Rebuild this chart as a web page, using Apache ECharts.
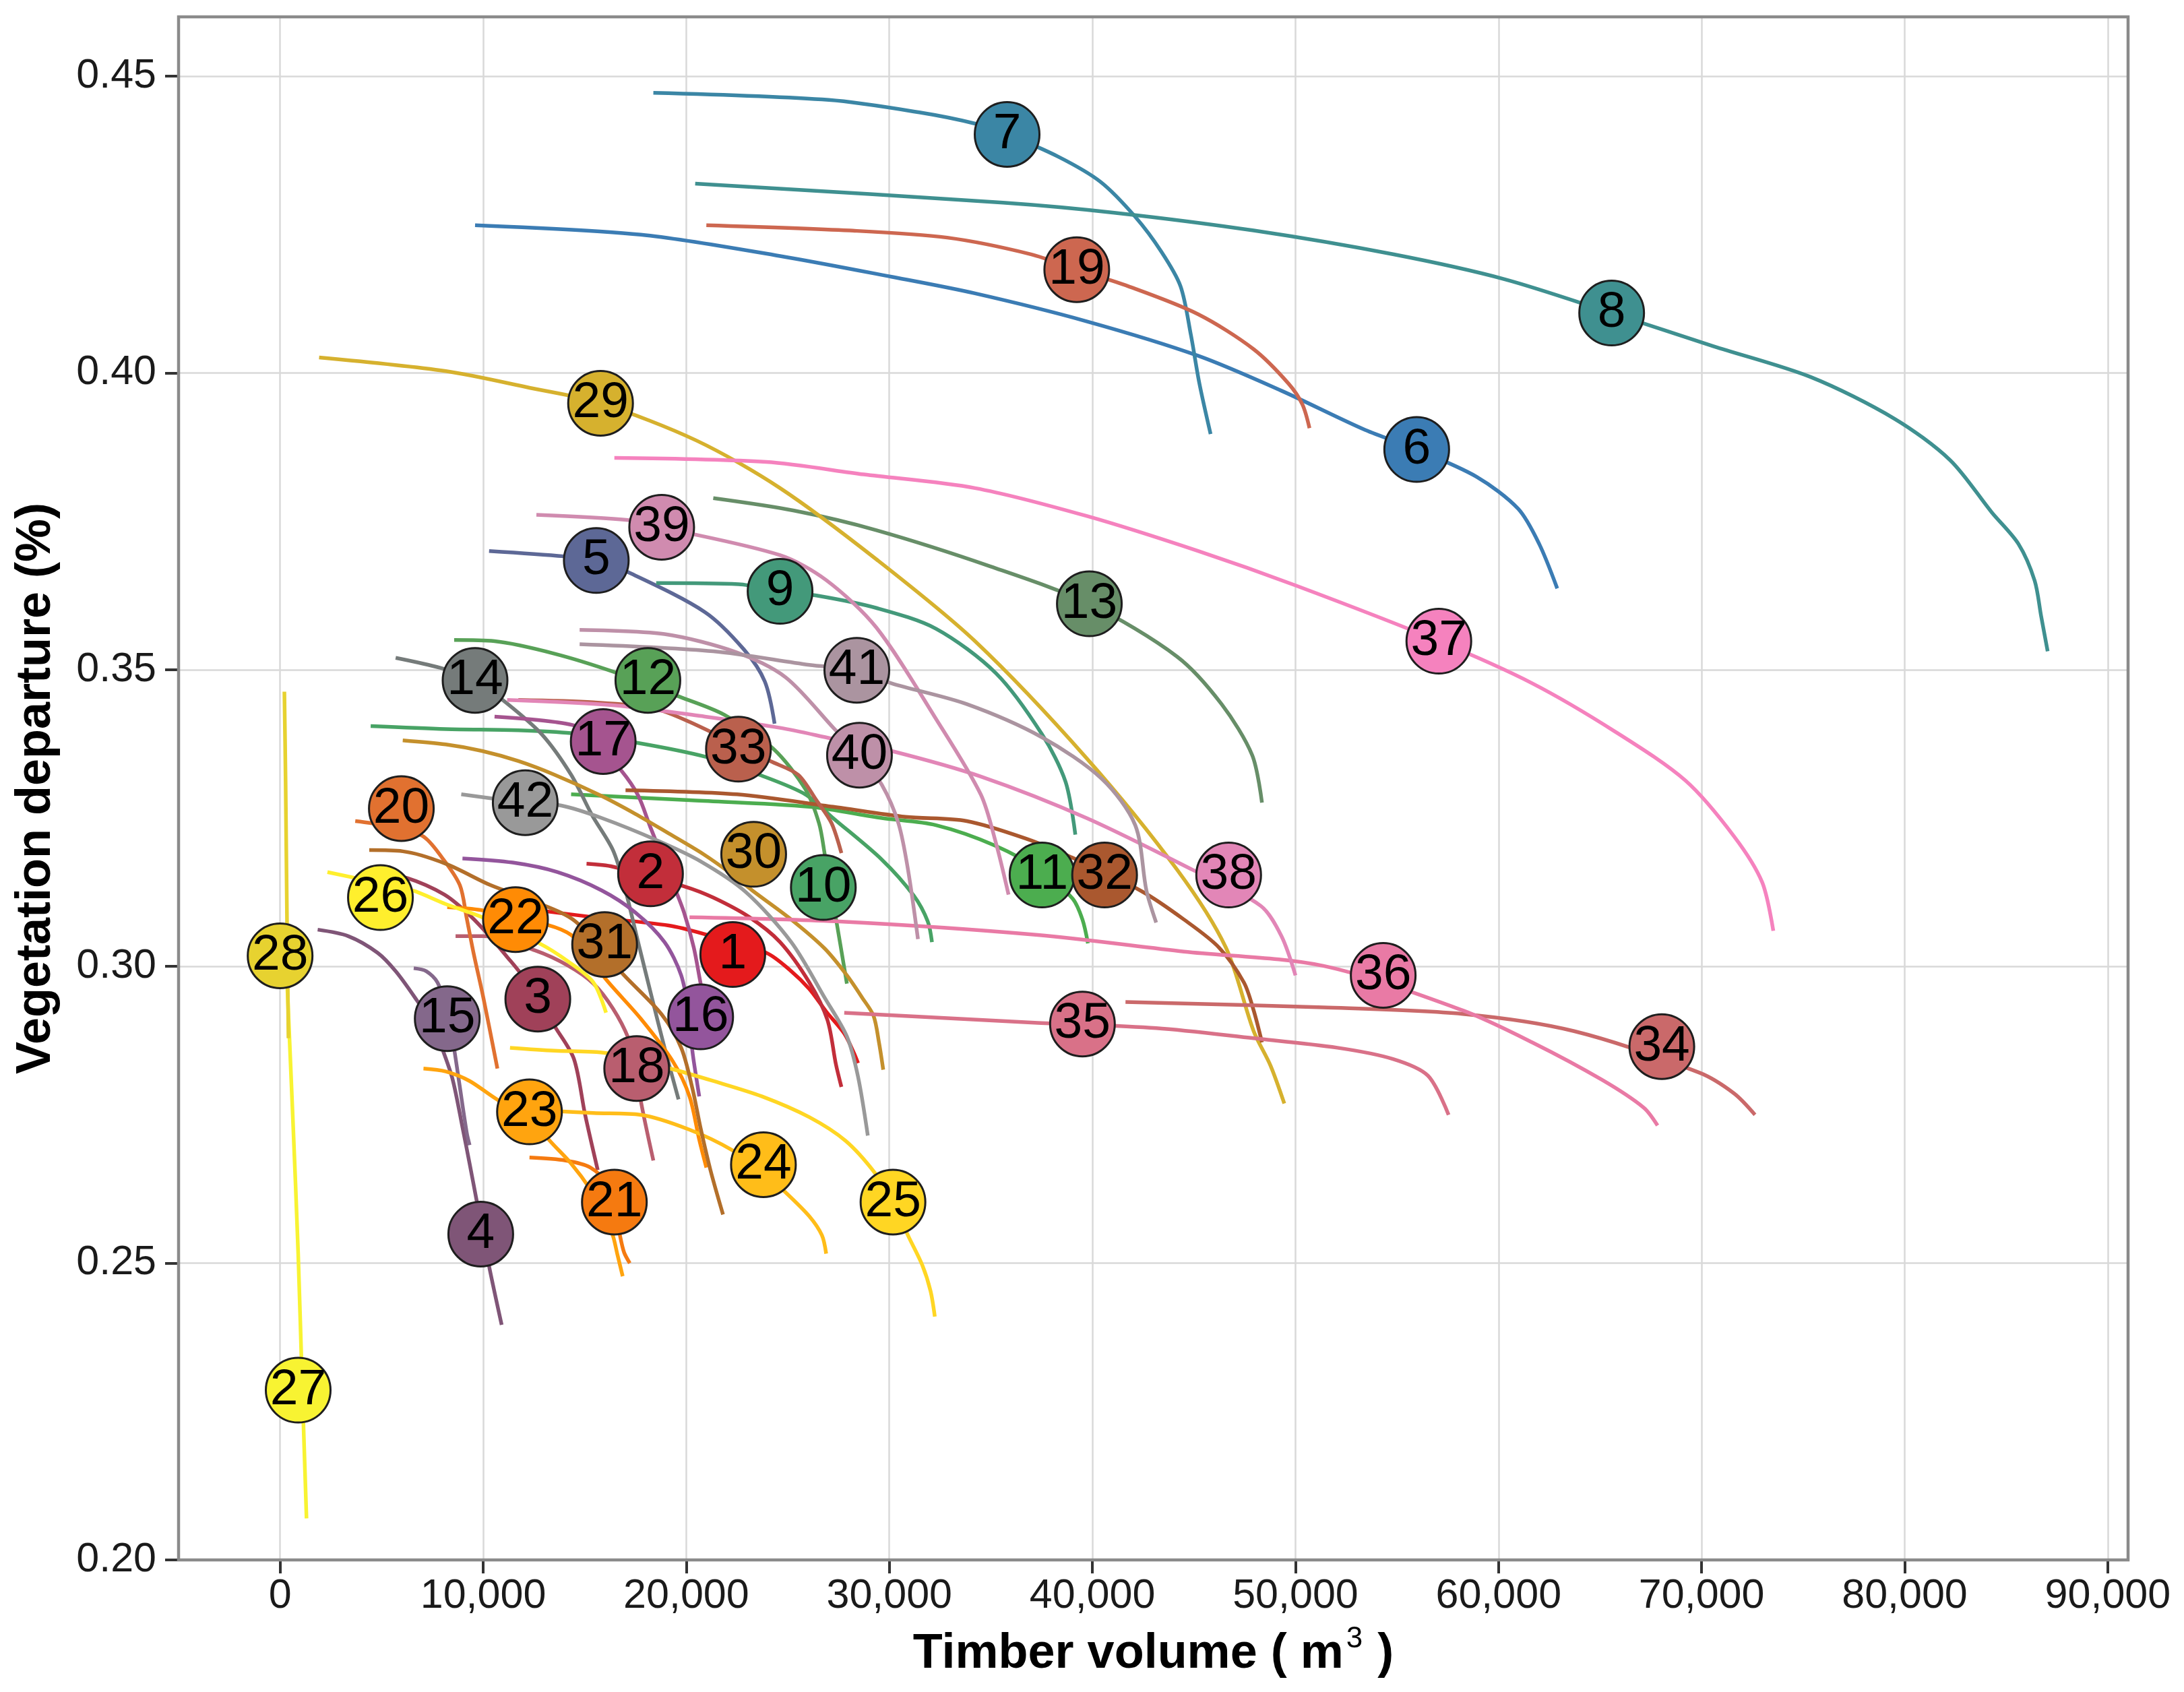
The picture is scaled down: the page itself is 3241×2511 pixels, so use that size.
<!DOCTYPE html>
<html>
<head>
<meta charset="utf-8">
<script src="https://cdn.jsdelivr.net/npm/echarts@6/dist/echarts.min.js"></script>
<style>
html,body{margin:0;padding:0;background:#fff;}
#chart{width:3241px;height:2511px;}
</style>
</head>
<body>
<div id="chart"></div>
<script>
// ---- tick values ----
const xTickValues = [0, 10000, 20000, 30000, 40000, 50000, 60000, 70000, 80000, 90000];
const yTickValues = [0.20, 0.25, 0.30, 0.35, 0.40, 0.45];

// ---- curves: [timber volume m3, vegetation departure] ----
const curve01 = [[12620,0.3095],[15430,0.3083],[19140,0.3069],[20850,0.3055],[23940,0.3023],[25170,0.2992],[26060,0.2962],[26890,0.2924],[27780,0.2887],[28260,0.2854],[28460,0.2837]];
const curve02 = [[15090,0.3173],[16390,0.3168],[19890,0.3135],[21330,0.3116],[23110,0.3083],[24620,0.3041],[26060,0.2973],[26950,0.2910],[27370,0.2835],[27640,0.2797]];
const curve03 = [[4180,0.3163],[6240,0.3149],[8090,0.3121],[9190,0.3091],[10080,0.3060],[11180,0.3016],[12070,0.2978],[13580,0.2896],[14470,0.2844],[15020,0.2750],[15640,0.2657]];
const curve04 = [[1850,0.3062],[3360,0.3051],[4800,0.3023],[5690,0.2992],[6650,0.2947],[7480,0.2903],[8020,0.2858],[8500,0.2809],[8980,0.2729],[9330,0.2668],[9670,0.2607],[10290,0.2495],[10910,0.2396]];
const curve05 = [[10290,0.3700],[13990,0.3691],[15570,0.3684],[17220,0.3663],[20920,0.3597],[22840,0.3534],[23870,0.3480],[24350,0.3409]];
const curve06 = [[9600,0.4249],[17760,0.4233],[24620,0.4197],[30110,0.4162],[34220,0.4134],[39710,0.4087],[45200,0.4029],[49310,0.3970],[53430,0.3904],[55970,0.3871],[58920,0.3825],[60970,0.3771],[62000,0.3712],[62890,0.3637]];
const curve07 = [[18380,0.4472],[27020,0.4460],[31480,0.4439],[34230,0.4420],[35800,0.4402],[38340,0.4364],[40400,0.4322],[42110,0.4263],[43400,0.4204],[44340,0.4146],[44850,0.4064],[45270,0.3982],[45820,0.3897]];
const curve08 = [[20440,0.4319],[35600,0.4287],[41080,0.4270],[47940,0.4240],[54800,0.4200],[60290,0.4158],[65570,0.4101],[70580,0.4045],[75380,0.3993],[79490,0.3923],[82240,0.3853],[84290,0.3765],[85600,0.3712],[86400,0.3650],[86720,0.3590],[87040,0.3531]];
const curve09 = [[18520,0.3646],[22570,0.3644],[24620,0.3632],[26410,0.3625],[29360,0.3604],[32300,0.3569],[35250,0.3494],[37520,0.3391],[38680,0.3311],[39160,0.3222]];
const curve10 = [[4460,0.3405],[8160,0.3400],[11730,0.3398],[14330,0.3393],[17560,0.3377],[20990,0.3353],[23590,0.3323],[25860,0.3290],[27230,0.3250],[29630,0.3180],[31210,0.3119],[31890,0.3076],[32100,0.3041]];
const curve11 = [[14330,0.3290],[20160,0.3280],[26060,0.3269],[29630,0.3250],[32300,0.3238],[35250,0.3203],[37520,0.3160],[39030,0.3114],[39510,0.3079],[39780,0.3039]];
const curve12 = [[8570,0.3550],[10560,0.3548],[13510,0.3527],[16460,0.3496],[19550,0.3456],[21880,0.3424],[24280,0.3367],[25860,0.3299],[26540,0.3241],[26820,0.3189],[27090,0.3133],[27370,0.3081],[27910,0.2971]];
const curve13 = [[21330,0.3789],[25310,0.3768],[29360,0.3735],[34980,0.3674],[39850,0.3611],[44170,0.3522],[46360,0.3442],[47870,0.3356],[48350,0.3276]];
const curve14 = [[5690,0.3520],[7890,0.3503],[9600,0.3482],[11110,0.3445],[12890,0.3391],[14330,0.3323],[15360,0.3255],[16390,0.3196],[16940,0.3137],[17630,0.3041],[18310,0.2947],[18930,0.2863],[19620,0.2776]];
const curve15 = [[6580,0.2997],[7200,0.2992],[7750,0.2973],[8230,0.2926],[8570,0.2861],[8850,0.2797],[9190,0.2720],[9330,0.2699]];
const curve16 = [[8980,0.3182],[11450,0.3175],[13650,0.3159],[15840,0.3128],[17490,0.3091],[18930,0.3041],[19750,0.2985],[20160,0.2915],[20300,0.2858],[20510,0.2809],[20640,0.2781]];
const curve17 = [[10560,0.3421],[13510,0.3412],[15020,0.3398],[16800,0.3330],[17630,0.3288],[18240,0.3234],[19340,0.3140],[19890,0.3091],[20370,0.3032],[20710,0.2971],[20850,0.2950]];
const curve18 = [[8640,0.3051],[10010,0.3051],[12550,0.3027],[14200,0.3001],[15430,0.2971],[16390,0.2929],[17150,0.2879],[17560,0.2828],[17760,0.2774],[18380,0.2673]];
const curve19 = [[20990,0.4249],[28050,0.4240],[32850,0.4228],[36970,0.4200],[39230,0.4174],[41770,0.4146],[45200,0.4099],[47940,0.4040],[49660,0.3982],[50340,0.3947],[50690,0.3907]];
const curve20 = [[3700,0.3245],[5080,0.3238],[7000,0.3220],[7960,0.3184],[8850,0.3137],[9190,0.3081],[9530,0.3022],[10010,0.2947],[10700,0.2828]];
const curve21 = [[12280,0.2678],[14060,0.2673],[15290,0.2661],[16120,0.2633],[16530,0.2586],[16740,0.2546],[16940,0.2518],[17220,0.2500]];
const curve22 = [[8230,0.3100],[9880,0.3095],[11590,0.3079],[13170,0.3070],[14330,0.3053],[15160,0.3020],[16050,0.2978],[17760,0.2912],[19340,0.2840],[20160,0.2781],[20640,0.2708],[20990,0.2661]];
const curve23 = [[7060,0.2828],[8160,0.2823],[9330,0.2807],[10770,0.2774],[12280,0.2750],[13240,0.2708],[14330,0.2668],[15290,0.2624],[15910,0.2586],[16390,0.2546],[16600,0.2516],[16870,0.2478]];
const curve24 = [[13100,0.2757],[15430,0.2753],[17760,0.2750],[20160,0.2725],[22290,0.2690],[23800,0.2652],[24900,0.2619],[26060,0.2579],[26680,0.2547],[26890,0.2516]];
const curve25 = [[11320,0.2863],[13510,0.2858],[16050,0.2854],[19200,0.2828],[21330,0.2807],[23730,0.2781],[26060,0.2746],[27850,0.2706],[29290,0.2652],[30180,0.2603],[30930,0.2546],[31620,0.2497],[32030,0.2453],[32240,0.2410]];
const curve26 = [[2330,0.3159],[4940,0.3140],[6520,0.3128],[8160,0.3105],[9950,0.3083],[12760,0.3039],[14200,0.3008],[15430,0.2973],[16050,0.2922]];
const curve27 = [[270,0.3032],[620,0.2750],[890,0.2516],[1100,0.2281],[1300,0.2070]];
const curve28 = [[210,0.3463],[270,0.3313],[340,0.3074],[410,0.2879]];
const curve29 = [[1920,0.4026],[8160,0.4003],[12280,0.3975],[15780,0.3949],[20510,0.3886],[24620,0.3806],[29360,0.3686],[34220,0.3548],[39710,0.3351],[44170,0.3163],[46570,0.3032],[47940,0.2891],[48770,0.2833],[49450,0.2769]];
const curve30 = [[6040,0.3381],[8160,0.3374],[9950,0.3363],[11730,0.3346],[13510,0.3323],[15780,0.3288],[17490,0.3257],[19140,0.3224],[20850,0.3189],[22220,0.3156],[23250,0.3128],[25170,0.3079],[26820,0.3030],[27910,0.2985],[28670,0.2947],[29220,0.2917],[29490,0.2872],[29700,0.2826]];
const curve31 = [[4390,0.3196],[6040,0.3194],[8160,0.3173],[10360,0.3137],[12550,0.3109],[14540,0.3076],[16940,0.2985],[18790,0.2919],[19750,0.2863],[20300,0.2795],[20710,0.2727],[21190,0.2657],[21810,0.2582]];
const curve32 = [[17010,0.3297],[22500,0.3290],[27230,0.3269],[30800,0.3252],[33810,0.3245],[36760,0.3215],[38960,0.3184],[42460,0.3126],[44510,0.3079],[46230,0.3032],[47460,0.2973],[47940,0.2926],[48350,0.2872]];
const curve33 = [[11730,0.3449],[15430,0.3445],[18380,0.3435],[20160,0.3412],[24140,0.3346],[25510,0.3323],[26410,0.3280],[27160,0.3241],[27640,0.3191]];
const curve34 = [[41630,0.2940],[51370,0.2931],[58230,0.2920],[63720,0.2891],[69890,0.2821],[71600,0.2786],[72630,0.2750]];
const curve35 = [[27780,0.2922],[37310,0.2905],[43140,0.2896],[47940,0.2879],[52060,0.2863],[54800,0.2844],[56520,0.2816],[57540,0.2750]];
const curve36 = [[20160,0.3083],[27370,0.3076],[37310,0.3053],[44510,0.3025],[51370,0.3001],[58230,0.2926],[61660,0.2872],[65090,0.2809],[67150,0.2762],[67830,0.2732]];
const curve37 = [[16460,0.3857],[23940,0.3850],[28740,0.3829],[34220,0.3806],[39710,0.3759],[45200,0.3700],[50000,0.3642],[57060,0.3548],[61660,0.3477],[65770,0.3395],[69210,0.3313],[71600,0.3219],[72980,0.3142],[73530,0.3060]];
const curve38 = [[11180,0.3449],[16460,0.3440],[20920,0.3421],[24620,0.3402],[27160,0.3384],[30110,0.3363],[34500,0.3320],[39710,0.3250],[44920,0.3163],[48290,0.3102],[49310,0.3051],[50000,0.2985]];
const curve39 = [[12620,0.3761],[17220,0.3752],[18790,0.3740],[24620,0.3693],[26890,0.3651],[29360,0.3571],[32300,0.3417],[34500,0.3290],[35250,0.3208],[35870,0.3121]];
const curve40 = [[14750,0.3567],[18930,0.3560],[22500,0.3529],[24900,0.3487],[27300,0.3400],[28530,0.3356],[29630,0.3306],[30450,0.3241],[30930,0.3161],[31410,0.3046]];
const curve41 = [[14750,0.3543],[21330,0.3531],[26060,0.3508],[28400,0.3499],[30110,0.3477],[33810,0.3442],[37520,0.3386],[40470,0.3316],[42110,0.3238],[42660,0.3128],[43140,0.3074]];
const curve42 = [[8920,0.3290],[12070,0.3276],[13850,0.3271],[15840,0.3250],[18590,0.3212],[20710,0.3177],[22910,0.3126],[25170,0.3041],[26820,0.2947],[27910,0.2882],[28460,0.2814],[28940,0.2715]];

// ---- numbered markers ----
const labelIds = [1,2,3,4,5,6,7,8,9,10,11,12,13,14,15,16,17,18,19,20,21,22,23,24,25,26,27,28,29,30,31,32,33,34,35,36,37,38,39,40,41,42];
const labelX = [22290,18240,12690,9880,15570,55970,35800,65570,24620,26750,37520,18110,39850,9600,8230,20710,15910,17560,39230,5970,16460,11590,12280,23800,30180,4940,890,0,15780,23320,15980,40600,22570,68040,39510,54320,57060,46710,18790,28530,28400,12070];
const labelY = [0.3020,0.3156,0.2945,0.2549,0.3684,0.3871,0.4402,0.4101,0.3632,0.3133,0.3154,0.3482,0.3611,0.3482,0.2912,0.2915,0.3379,0.2828,0.4174,0.3266,0.2603,0.3079,0.2755,0.2666,0.2603,0.3116,0.2286,0.3018,0.3949,0.3189,0.3037,0.3154,0.3366,0.2865,0.2903,0.2985,0.3548,0.3154,0.3740,0.3356,0.3499,0.3276];

const curves = [curve01,curve02,curve03,curve04,curve05,curve06,curve07,curve08,curve09,curve10,curve11,curve12,curve13,curve14,curve15,curve16,curve17,curve18,curve19,curve20,curve21,curve22,curve23,curve24,curve25,curve26,curve27,curve28,curve29,curve30,curve31,curve32,curve33,curve34,curve35,curve36,curve37,curve38,curve39,curve40,curve41,curve42];

// ---- colour ramp (Set1 interpolated) ----
const set1 = ['#E41A1C','#377EB8','#4DAF4A','#984EA3','#FF7F00','#FFFF33','#A65628','#F781BF','#999999'];
function hexToRgb(h){return [parseInt(h.substr(1,2),16),parseInt(h.substr(3,2),16),parseInt(h.substr(5,2),16)];}
function ramp(i, n){
  const t = i*(set1.length-1)/(n-1);
  let k = Math.floor(t); if (k >= set1.length-1) k = set1.length-2;
  const f = t-k, a = hexToRgb(set1[k]), b = hexToRgb(set1[k+1]);
  const c = a.map((v,j)=>Math.round(v+(b[j]-v)*f));
  return 'rgb('+c.join(',')+')';
}
const colors = curves.map((_,i)=>ramp(i, curves.length));

const FONT = 'Liberation Sans, Arial, Helvetica, sans-serif';
const chart = echarts.init(document.getElementById('chart'));

const series = curves.map((d,i)=>({
  type:'line', data:d, smooth:0.3, symbol:'none',
  lineStyle:{width:5.5, color:colors[i], cap:'butt', join:'round'}, z:3, silent:true, animation:false
}));
// grid lines at tick positions
series[0].markLine = {
  silent:true, symbol:'none', z:1, animation:false,
  label:{show:false},
  lineStyle:{color:'#d9d9d9', width:2.5, type:'solid'},
  emphasis:{disabled:true},
  data: xTickValues.map(v=>({xAxis:v})).concat(yTickValues.slice(1).map(v=>({yAxis:v})))
};
series.push({
  type:'scatter', z:5, animation:false, silent:true,
  symbol:'circle', symbolSize:96,
  data: labelIds.map((id,i)=>({value:[labelX[i],labelY[i]], name:String(id), itemStyle:{color:colors[id-1]}})),
  itemStyle:{borderColor:'#1e1e1e', borderWidth:3, opacity:1},
  label:{show:true, position:'inside', formatter:'{b}', color:'#000', fontSize:75, fontFamily:FONT}
});

chart.setOption({
  animation:false,
  backgroundColor:'#fff',
  grid:{left:265, right:83, top:25, bottom:196, show:true, borderColor:'#8a8a8a', borderWidth:4.5, z:2},
  xAxis:{
    type:'value', min:-5000, max:91000, position:'bottom',
    axisLine:{show:false, onZero:false}, splitLine:{show:false},
    axisTick:{show:true, length:20, lineStyle:{color:'#333', width:4}, customValues:xTickValues},
    axisLabel:{customValues:xTickValues, fontSize:61, color:'#1a1a1a', fontFamily:FONT, margin:24,
      formatter:v=>v.toLocaleString('en-US')},
    name:'{t|Timber volume ( m}{s|3}{t| )}', nameLocation:'middle', nameGap:96,
    nameTextStyle:{color:'#000', rich:{
      t:{fontSize:72, fontWeight:'bold', fontFamily:FONT, color:'#000', lineHeight:80, verticalAlign:'bottom'},
      s:{fontSize:44, fontFamily:FONT, color:'#000', lineHeight:44, verticalAlign:'top', padding:[0,2,0,4]}
    }}
  },
  yAxis:{
    type:'value', min:0.2, max:0.46, position:'left',
    axisLine:{show:false, onZero:false}, splitLine:{show:false},
    axisTick:{show:true, length:20, lineStyle:{color:'#333', width:4}, customValues:yTickValues},
    axisLabel:{customValues:yTickValues, fontSize:61, color:'#1a1a1a', fontFamily:FONT, margin:33,
      formatter:v=>v.toFixed(2)},
    name:'Vegetation departure (%)', nameLocation:'middle', nameGap:175,
    nameTextStyle:{fontSize:72, fontWeight:'bold', fontFamily:FONT, color:'#000'}
  },
  series: series
});
</script>
</body>
</html>
